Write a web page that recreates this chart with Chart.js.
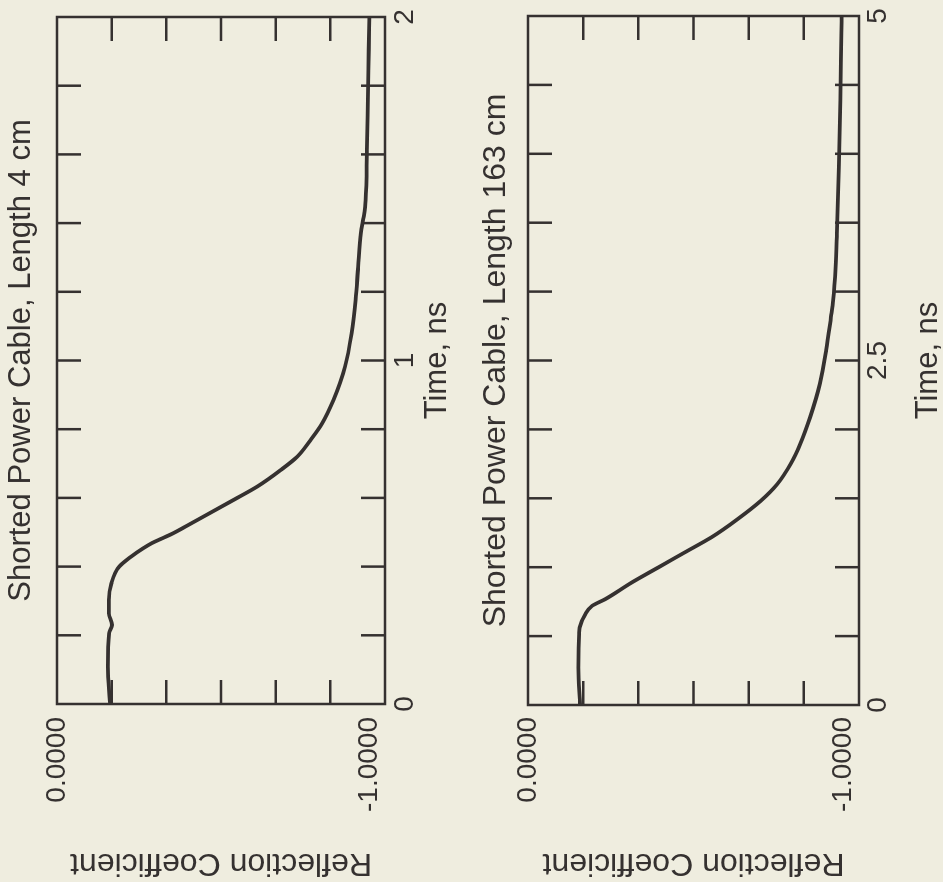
<!DOCTYPE html>
<html>
<head>
<meta charset="utf-8">
<title>Shorted Power Cable</title>
<script src="https://cdn.jsdelivr.net/npm/chart.js@4.4.1/dist/chart.umd.min.js"></script>
<style>
  html, body { margin: 0; padding: 0; width: 943px; height: 882px; overflow: hidden; background: #efeddf; }
  /* the scan is turned a quarter turn anticlockwise, so each chart is drawn upright and rotated */
  .panel { position: absolute; left: 0; top: 0; width: 882px; height: 500px; transform-origin: 0 0; }
  #panel1 { transform: translate(0px, 882px) rotate(-90deg); }
  #panel2 { transform: translate(470px, 882px) rotate(-90deg); }
</style>
</head>
<body>
<div id="panel1" class="panel"><canvas id="chart1" width="882" height="500"></canvas></div>
<div id="panel2" class="panel"><canvas id="chart2" width="882" height="500"></canvas></div>
<script>
// ---- data ----
const titles = ['Shorted Power Cable, Length 4 cm', 'Shorted Power Cable, Length 163 cm'];

// cable 4 cm, time in ns
const time1 = [0, 0.109, 0.206, 0.230, 0.264, 0.303, 0.351, 0.400, 0.429, 0.453, 0.468, 0.482,
  0.497, 0.516, 0.545, 0.594, 0.633, 0.681, 0.720, 0.769, 0.817, 0.885, 0.982, 1.079, 1.176,
  1.272, 1.371, 1.420, 1.467, 1.613, 1.758, 1.904, 2.0];
const refl1 = [-0.170, -0.163, -0.167, -0.176, -0.166, -0.166, -0.174, -0.199, -0.237, -0.275, -0.303, -0.336,
  -0.372, -0.410, -0.468, -0.565, -0.641, -0.716, -0.769, -0.812, -0.849, -0.885, -0.922, -0.943, -0.956,
  -0.964, -0.973, -0.982, -0.988, -0.992, -0.995, -0.998, -1.000];

// cable 163 cm
const time2 = [0, 0.271, 0.514, 0.562, 0.659, 0.719, 0.768, 0.889, 0.998, 1.107, 1.216, 1.349, 1.483,
  1.604, 1.749, 1.895, 2.088, 2.331, 2.573, 2.815, 2.936, 3.178, 3.420, 3.905, 4.390, 4.874, 5.0];
const refl2 = [-0.165, -0.160, -0.162, -0.164, -0.182, -0.203, -0.245, -0.329, -0.413, -0.497, -0.581, -0.665, -0.739,
  -0.791, -0.833, -0.864, -0.895, -0.926, -0.946, -0.961, -0.968, -0.976, -0.980, -0.986, -0.991, -0.994, -0.995];

// tick labels
const timeTicks1 = [0, 1, 2];
const timeTicks2 = [0, 2.5, 5];
const reflTicks = [0, -1];

// ---- look ----
const INK = '#353130';
const FONT = '"Liberation Sans", Arial, Helvetica, sans-serif';
const CANVAS_H = 500;

// where things sit in each (unrotated) canvas
const layouts = [
  { top: 57, bottom: 385, left: 178, right: 865, titleSize: 31, titleMid: 21, timeLabelMid: 405, timeTitleMid: 437, labelPad: 13, timeMax: 2, timeStep: 0.2 },
  { top: 58, bottom: 389, left: 177, right: 866, titleSize: 32, titleMid: 26.5, timeLabelMid: 408, timeTitleMid: 458.5, labelPad: 12, timeMax: 5, timeStep: 0.5 }
];

// frame plus the inward tick marks on all four sides
const frameMarks = {
  id: 'frameMarks',
  beforeDatasetsDraw(chart, args, opts) {
    const { ctx, chartArea: a, scales } = chart;
    const xs = scales.x, ys = scales.y;
    ctx.save();
    ctx.strokeStyle = INK;
    ctx.lineWidth = 2.5;
    ctx.strokeRect(a.left, a.top, a.right - a.left, a.bottom - a.top);
    ctx.beginPath();
    const n = Math.round((xs.max - xs.min) / opts.timeStep);
    for (let i = 1; i < n; i++) {
      const px = xs.getPixelForValue(xs.min + i * opts.timeStep);
      ctx.moveTo(px, a.top); ctx.lineTo(px, a.top + opts.len);
      ctx.moveTo(px, a.bottom); ctx.lineTo(px, a.bottom - opts.len);
    }
    for (let i = 1; i < opts.reflDivisions; i++) {
      const py = ys.getPixelForValue(ys.min + (ys.max - ys.min) * i / opts.reflDivisions);
      ctx.moveTo(a.left, py); ctx.lineTo(a.left + opts.len, py);
      ctx.moveTo(a.right, py); ctx.lineTo(a.right - opts.len, py);
    }
    ctx.stroke();
    ctx.restore();
  }
};

function makeChart(id, title, times, refls, timeTicks, L) {
  const points = times.map((t, i) => ({ x: t, y: refls[i] }));
  const tickFont = { family: FONT, size: 28 };
  const titleLine = L.titleSize * 1.2;

  return new Chart(document.getElementById(id), {
    type: 'line',
    data: {
      datasets: [{
        data: points,
        xAxisID: 'x',
        yAxisID: 'y',
        borderColor: INK,
        borderWidth: 3.8,
        pointRadius: 0,
        fill: false,
        cubicInterpolationMode: 'monotone'
      }]
    },
    options: {
      responsive: false,
      animation: false,
      layout: { padding: { left: 0, top: 0, bottom: 0, right: 882 - L.right } },
      plugins: {
        legend: { display: false },
        tooltip: { enabled: false },
        frameMarks: { timeStep: L.timeStep, reflDivisions: 6, len: 24 }
      },
      scales: {
        x: {
          type: 'linear',
          position: 'bottom',
          min: 0,
          max: L.timeMax,
          afterBuildTicks: s => { s.ticks = timeTicks.map(v => ({ value: v })); },
          afterFit: s => { s.height = CANVAS_H - L.bottom; },
          ticks: { color: INK, font: tickFont, padding: L.timeLabelMid - L.bottom - 16.8, maxRotation: 0 },
          grid: { display: false, drawTicks: false },
          border: { display: false },
          title: {
            display: true, text: 'Time, ns', color: INK,
            font: { family: FONT, size: 31 },
            padding: { top: 0, bottom: CANVAS_H - L.timeTitleMid - 18.6 }
          }
        },
        xTop: {
          type: 'linear',
          position: 'top',
          min: 0,
          max: L.timeMax,
          afterFit: s => { s.height = L.top; },
          ticks: { display: false },
          grid: { display: false, drawTicks: false },
          border: { display: false },
          title: {
            display: true, text: title, color: INK,
            font: { family: FONT, size: L.titleSize },
            padding: { top: L.titleMid - titleLine / 2, bottom: 0 }
          }
        },
        y: {
          type: 'linear',
          position: 'left',
          min: -1.05,
          max: 0,
          afterBuildTicks: s => { s.ticks = reflTicks.map(v => ({ value: v })); },
          afterFit: s => { s.width = L.left; },
          ticks: { color: INK, font: tickFont, padding: L.labelPad, callback: v => v.toFixed(4) },
          grid: { display: false, drawTicks: false },
          border: { display: false },
          title: {
            display: true, text: 'Reflection Coefficient', color: INK,
            font: { family: FONT, size: 32 },
            padding: { top: 0, bottom: 0 }
          }
        }
      }
    },
    plugins: [frameMarks]
  });
}

makeChart('chart1', titles[0], time1, refl1, timeTicks1, layouts[0]);
makeChart('chart2', titles[1], time2, refl2, timeTicks2, layouts[1]);
</script>
</body>
</html>
